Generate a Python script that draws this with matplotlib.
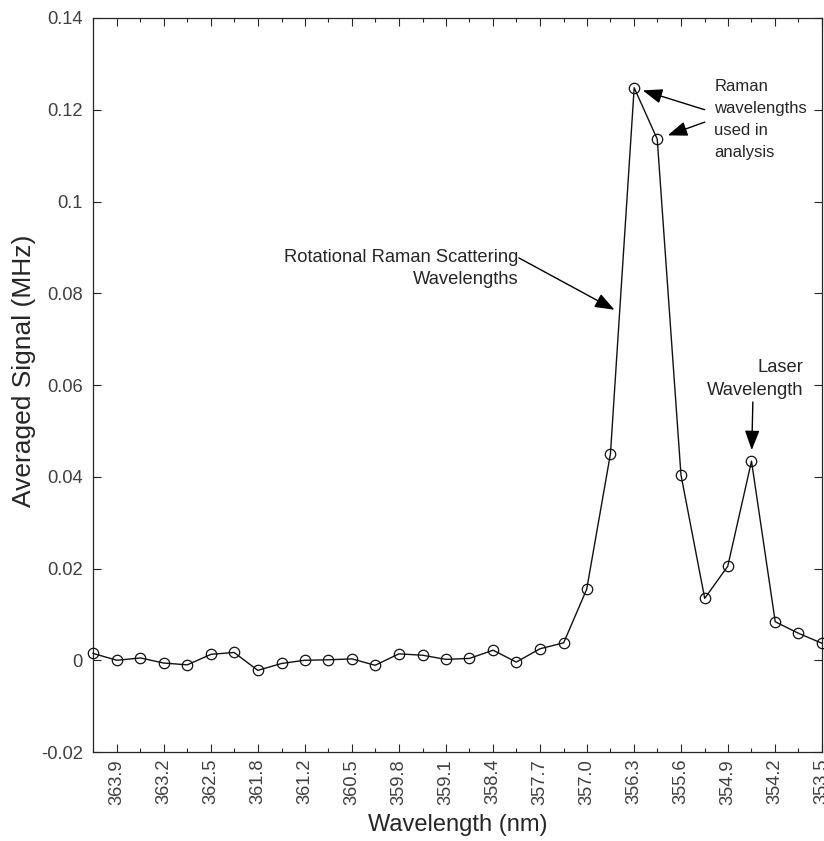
import matplotlib
matplotlib.use("Agg")
import matplotlib.pyplot as plt

plt.rcParams['font.family'] = ['Liberation Sans', 'DejaVu Sans']

# Spectrometer channel centres (nm) and averaged photon-count signal (MHz)
wavelengths = [364.28, 363.93, 363.58, 363.24, 362.89, 362.54, 362.20, 361.85,
               361.50, 361.16, 360.81, 360.46, 360.12, 359.77, 359.42, 359.08,
               358.73, 358.38, 358.04, 357.69, 357.34, 357.00, 356.65, 356.30,
               355.96, 355.61, 355.26, 354.92, 354.57, 354.22, 353.88, 353.53]
signal = [0.0015, 0.0000, 0.0005, -0.0006, -0.0010, 0.0013, 0.0017, -0.0022,
          -0.0007, 0.0000, 0.0001, 0.0003, -0.0011, 0.0014, 0.0011, 0.0002,
          0.0004, 0.0022, -0.0004, 0.0025, 0.0038, 0.0155, 0.0450, 0.1248,
          0.1136, 0.0404, 0.0135, 0.0205, 0.0434, 0.0084, 0.0059, 0.0037]
tick_labels = ["363.9", "363.2", "362.5", "361.8", "361.2", "360.5", "359.8",
               "359.1", "358.4", "357.7", "357.0", "356.3", "355.6", "354.9",
               "354.2", "353.5"]
y_ticks = [-0.02, 0, 0.02, 0.04, 0.06, 0.08, 0.1, 0.12, 0.14]
y_tick_labels = ["-0.02", "0", "0.02", "0.04", "0.06", "0.08", "0.1", "0.12", "0.14"]

axis_col = '#262626'
tick_col = '#404040'

fig = plt.figure(figsize=(8.24, 8.41), dpi=100)
ax = fig.add_axes([0.1129, 0.1058, 0.8847, 0.8728])

ax.plot(wavelengths, signal, color='#111111', lw=1.0, marker='o', ms=7.5,
        mfc='none', mec='#111111', mew=0.9, clip_on=False, zorder=3)

ax.set_xlim(wavelengths[0], wavelengths[-1])
ax.set_ylim(-0.02, 0.14)

ax.set_xticks(wavelengths[1::2])
ax.set_xticklabels(tick_labels, rotation=90)
ax.set_xticks(wavelengths[0::2], minor=True)
ax.set_yticks(y_ticks)
ax.set_yticklabels(y_tick_labels)

for sp in ax.spines.values():
    sp.set_color(axis_col)
    sp.set_linewidth(0.9)
ax.tick_params(which='both', direction='in', top=True, right=True,
               color=axis_col, labelcolor=tick_col, labelsize=13.2, width=0.8)
ax.tick_params(which='major', length=6)
ax.tick_params(which='minor', length=3)
ax.tick_params(axis='x', pad=5)
ax.tick_params(axis='y', pad=7.5)

ax.set_xlabel('Wavelength (nm)', fontsize=17, color=axis_col, labelpad=7)
ax.set_ylabel('Averaged Signal (MHz)', fontsize=19, color=axis_col)
ax.yaxis.set_label_coords(-0.078, 0.52)

arrow = dict(arrowstyle='-|>,head_length=1.2,head_width=0.45', color='black',
             lw=1.0, shrinkA=0)

# Raman channels used in the analysis
ax.text(355.12, 0.1268, 'Raman\nwavelengths\nused in\nanalysis',
        ha='left', va='top', fontsize=12, color=axis_col, linespacing=1.6)
ax.annotate('', xy=(wavelengths[23], signal[23]), xytext=(355.26, 0.1200),
            arrowprops=dict(arrow, shrinkB=6.5))
ax.annotate('', xy=(wavelengths[24], signal[24]), xytext=(355.26, 0.1173),
            arrowprops=dict(arrow, shrinkB=8))

# Rotational Raman band
ax.text(358.01, 0.0854, 'Rotational Raman Scattering\nWavelengths',
        ha='right', va='center', fontsize=13.2, color=axis_col, linespacing=1.45)
ax.annotate('', xy=(356.59, 0.0764), xytext=(358.00, 0.0877),
            arrowprops=dict(arrow, shrinkB=0))

# Laser line
ax.text(353.80, 0.0614, 'Laser\nWavelength', ha='right', va='center',
        fontsize=13.2, color=axis_col, linespacing=1.45)
ax.annotate('', xy=(wavelengths[28], signal[28]), xytext=(354.55, 0.0563),
            arrowprops=dict(arrow, shrinkB=8))

fig.savefig('out.png', dpi=100)
